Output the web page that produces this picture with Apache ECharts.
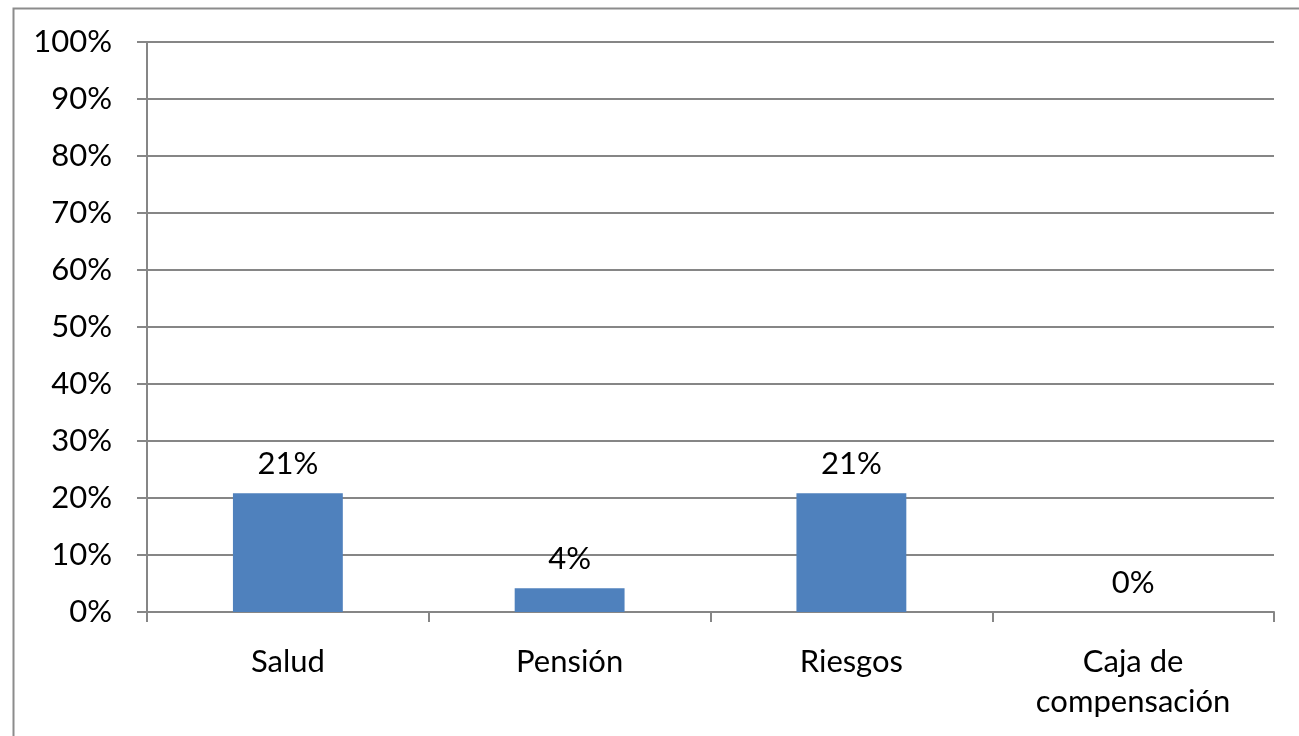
<!DOCTYPE html>
<html><head><meta charset="utf-8">
<script src="https://cdn.jsdelivr.net/npm/echarts@6/dist/echarts.min.js"></script>
<style>html,body{margin:0;padding:0;background:#fff}#c{width:1299px;height:736px}</style>
</head><body><div id="c"></div>
<script>
const categories = ['Salud', 'Pensión', 'Riesgos', 'Caja de\ncompensación'];
const values = [0.2083, 0.0417, 0.2083, 0];
const yTicks = [0, 0.1, 0.2, 0.3, 0.4, 0.5, 0.6, 0.7, 0.8, 0.9, 1];

const font = 'Lato, "Open Sans", sans-serif';
const fs = 31;
const chart = echarts.init(document.getElementById('c'));
chart.setOption({
  animation: false,
  graphic: [{type:'rect', left:11, top:6, shape:{width:1300, height:740}, style:{fill:'none', stroke:'#8c8c8c', lineWidth:2}}],
  grid: {left:147, right:25, top:42, bottom:124, containLabel:false},
  xAxis: {
    type:'category', data:categories,
    axisLine:{lineStyle:{color:'#868686', width:2}},
    axisTick:{show:true, length:10, lineStyle:{color:'#868686', width:2}},
    axisLabel:{color:'#000', fontSize:fs, fontFamily:font, margin:30, lineHeight:40}
  },
  yAxis: {
    type:'value', min:0, max:1, interval:0.1,
    axisLine:{show:true, lineStyle:{color:'#868686', width:2}},
    axisTick:{show:true, length:10, lineStyle:{color:'#868686', width:2}},
    splitLine:{lineStyle:{color:'#868686', width:2}},
    axisLabel:{color:'#000', fontSize:fs, fontFamily:font, margin:35, padding:[4,0,0,0],
      formatter: v => Math.round(v*100) + '%'}
  },
  series: [{
    type:'bar', data:values, barWidth:'39%',
    itemStyle:{color:'#4f81bd'},
    label:{show:true, position:'top', distance:14, color:'#000', fontSize:fs, fontFamily:font,
      formatter: p => Math.round(p.value*100) + '%'}
  }]
});
</script></body></html>
